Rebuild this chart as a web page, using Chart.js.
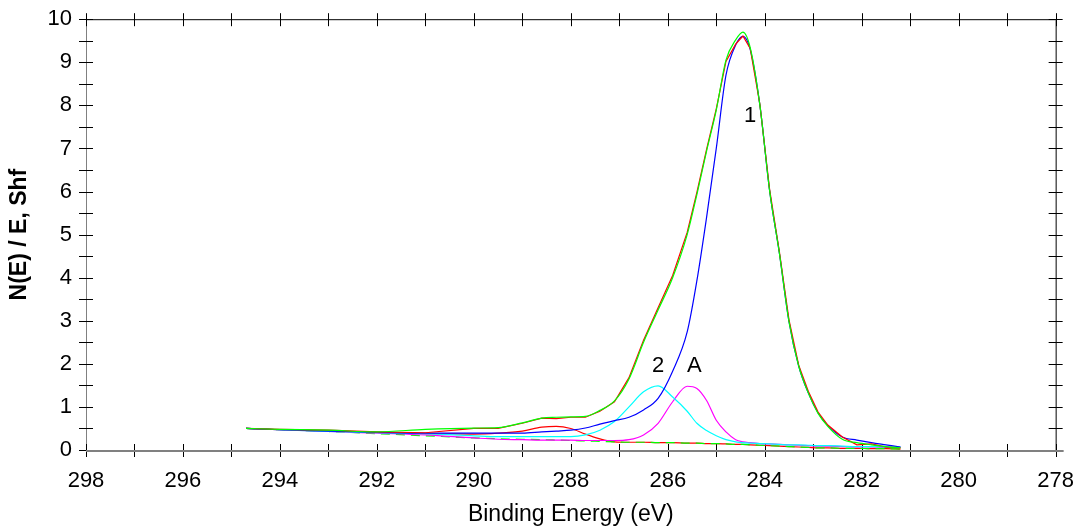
<!DOCTYPE html>
<html>
<head>
<meta charset="utf-8">
<script src="https://cdn.jsdelivr.net/npm/chart.js@4.4.1/dist/chart.umd.min.js"></script>
<style>
  html, body { margin: 0; padding: 0; background: #ffffff; }
  #c { display: block; }
</style>
</head>
<body>
<canvas id="c" width="1084" height="528"></canvas>
<script>
// Binding energy grid (eV)
const energy = [294.7, 294, 293, 292, 291, 290, 289.5, 289, 288.6, 288.3, 288, 287.7, 287.4, 287.1, 286.8, 286.5, 286.2, 285.9, 285.6, 285.4, 285.2, 285.0, 284.8, 284.6, 284.45, 284.3, 284.1, 283.9, 283.7, 283.5, 283.3, 283.1, 282.9, 282.7, 282.4, 282.1, 281.8, 281.5, 281.2];

// Raw spectrum (red)
const rawData = [0.50, 0.48, 0.46, 0.42, 0.40, 0.50, 0.50, 0.62, 0.74, 0.73, 0.76, 0.76, 0.90, 1.12, 1.68, 2.55, 3.30, 4.05, 5.05, 5.98, 6.98, 7.92, 9.02, 9.42, 9.61, 9.32, 8.02, 6.05, 4.62, 3.02, 1.97, 1.36, 0.88, 0.58, 0.30, 0.12, 0.14, 0.07, 0.05];
// Fitted envelope (green)
const envelope = [0.50, 0.48, 0.46, 0.42, 0.48, 0.51, 0.52, 0.63, 0.74, 0.76, 0.77, 0.78, 0.92, 1.14, 1.65, 2.50, 3.25, 4.00, 5.00, 5.93, 6.94, 7.89, 9.05, 9.52, 9.70, 9.34, 8.00, 6.02, 4.58, 2.98, 1.95, 1.32, 0.85, 0.55, 0.25, 0.17, 0.12, 0.08, 0.05];
// Component 1 (blue)
const peak1 = [0.50, 0.47, 0.44, 0.41, 0.39, 0.39, 0.39, 0.39, 0.42, 0.44, 0.46, 0.51, 0.60, 0.68, 0.76, 0.93, 1.20, 1.83, 2.74, 3.93, 5.40, 7.00, 8.70, 9.40, 9.60, 9.30, 8.00, 6.02, 4.58, 2.98, 1.95, 1.32, 0.86, 0.57, 0.30, 0.23, 0.17, 0.12, 0.07];
// Component 2 (cyan)
const peak2 = [0.50, 0.47, 0.43, 0.40, 0.38, 0.33, 0.31, 0.31, 0.31, 0.31, 0.31, 0.35, 0.46, 0.66, 1.00, 1.35, 1.49, 1.23, 0.90, 0.62, 0.45, 0.33, 0.24, 0.19, 0.17, 0.16, 0.15, 0.14, 0.13, 0.12, 0.12, 0.11, 0.10, 0.10, 0.09, 0.08, 0.08, 0.07, 0.07];
// Component A (magenta)
const peakA = [0.50, 0.47, 0.43, 0.39, 0.35, 0.28, 0.25, 0.24, 0.23, 0.23, 0.23, 0.22, 0.22, 0.22, 0.24, 0.35, 0.62, 1.12, 1.48, 1.43, 1.15, 0.69, 0.42, 0.24, 0.19, 0.17, 0.15, 0.14, 0.13, 0.12, 0.11, 0.10, 0.09, 0.09, 0.08, 0.07, 0.07, 0.06, 0.06];
// Small component near 288.4 eV (red)
const peak3 = [0.50, 0.47, 0.44, 0.41, 0.38, 0.37, 0.39, 0.44, 0.53, 0.55, 0.50, 0.37, 0.26, 0.19, 0.18, 0.18, 0.17, 0.17, 0.16, 0.16, 0.15, 0.15, 0.14, 0.13, 0.13, 0.12, 0.11, 0.10, 0.09, 0.08, 0.07, 0.06, 0.05, 0.05, 0.04, 0.04, 0.03, 0.03, 0.02];
// Background (green dashed)
const background = [0.50, 0.47, 0.43, 0.38, 0.33, 0.28, 0.26, 0.25, 0.24, 0.23, 0.22, 0.21, 0.20, 0.19, 0.18, 0.18, 0.17, 0.17, 0.16, 0.16, 0.15, 0.15, 0.14, 0.13, 0.13, 0.12, 0.11, 0.10, 0.09, 0.08, 0.07, 0.06, 0.05, 0.05, 0.04, 0.04, 0.03, 0.03, 0.02];

// Peak labels
const labelText = ['1', '2', 'A'];
const labelEnergy = [284.3, 286.2, 285.45];
const labelValue = [7.75, 1.95, 1.95];

// Axis settings
const xMin = 278, xMax = 298, xMajor = 2, xMinor = 1;
const yMin = 0, yMax = 10, yMajor = 1, yMinor = 0.5;

const pts = arr => arr.map((v, i) => ({ x: energy[i], y: v }));

const FONT = '"Liberation Sans", Arial, sans-serif';

const framePlugin = {
  id: 'frame',
  beforeDatasetsDraw(chart) {
    const { ctx, chartArea: a, scales: { x, y } } = chart;
    ctx.save();
    ctx.lineCap = 'butt';
    ctx.strokeStyle = '#808080';
    ctx.lineWidth = 1;
    ctx.beginPath();
    ctx.moveTo(a.left + 0.5, a.top); ctx.lineTo(a.left + 0.5, a.bottom);
    ctx.stroke();
    ctx.strokeStyle = '#000';
    ctx.beginPath();
    ctx.moveTo(a.left, a.top + 0.5); ctx.lineTo(a.right, a.top + 0.5);
    ctx.moveTo(a.right + 0.5, a.top); ctx.lineTo(a.right + 0.5, a.bottom);
    ctx.stroke();
    ctx.strokeStyle = '#000';
    ctx.lineWidth = 1;
    ctx.beginPath();
    for (let e = xMin; e <= xMax + 1e-9; e += xMinor) {
      const px = Math.round(x.getPixelForValue(e)) + 0.5;
      ctx.moveTo(px, a.bottom - 6); ctx.lineTo(px, a.bottom + 7);
      ctx.moveTo(px, a.top - 6); ctx.lineTo(px, a.top + 7);
    }
    for (let v = yMin; v <= yMax + 1e-9; v += yMinor) {
      const py = Math.round(y.getPixelForValue(v)) + 0.5;
      ctx.moveTo(a.left - 7, py); ctx.lineTo(a.left + 7, py);
      ctx.moveTo(a.right - 7, py); ctx.lineTo(a.right + 7, py);
    }
    ctx.stroke();
    ctx.strokeStyle = '#808080';
    ctx.lineWidth = 2;
    ctx.beginPath();
    ctx.moveTo(a.left, a.bottom + 1); ctx.lineTo(a.right + 8, a.bottom + 1);
    ctx.stroke();
    ctx.restore();
  },
  afterDatasetsDraw(chart) {
    const { ctx, scales: { x, y } } = chart;
    ctx.save();
    ctx.fillStyle = '#000';
    ctx.font = '22px ' + FONT;
    ctx.textAlign = 'center';
    ctx.textBaseline = 'middle';
    labelText.forEach((t, i) => {
      ctx.fillText(t, x.getPixelForValue(labelEnergy[i]), y.getPixelForValue(labelValue[i]));
    });
    ctx.restore();
  }
};

const line = (data, color, order, extra) => Object.assign({
  data: pts(data),
  borderColor: color,
  borderWidth: 1.2,
  pointRadius: 0,
  fill: false,
  cubicInterpolationMode: 'monotone',
  order: order
}, extra || {});

new Chart(document.getElementById('c'), {
  type: 'line',
  data: {
    datasets: [
      line(envelope, '#00ff00', 1),
      line(rawData, '#ff0000', 2, { cubicInterpolationMode: 'default', tension: 0 }),
      line(peak1, '#0000ff', 3),
      line(peak2, '#00ffff', 4),
      line(peakA, '#ff00ff', 5),
      line(background, '#00ff00', 6, { borderDash: [9, 6] }),
      line(peak3, '#ff0000', 7)
    ]
  },
  options: {
    responsive: false,
    animation: false,
    devicePixelRatio: 1,
    layout: { padding: { top: 13, right: 17, left: 0, bottom: 0 } },
    plugins: { legend: { display: false }, tooltip: { enabled: false } },
    scales: {
      x: {
        type: 'linear',
        min: xMin, max: xMax,
        reverse: true,
        grid: { display: false },
        border: { display: false },
        ticks: {
          stepSize: xMajor,
          color: '#000',
          font: { family: FONT, size: 22 },
          padding: 10,
          maxRotation: 0,
          autoSkip: false
        },
        title: {
          display: true,
          text: 'Binding Energy (eV)',
          color: '#000',
          font: { family: FONT, size: 23 },
          padding: { top: 0, bottom: 0 }
        },
        afterFit(s) { s.height = 78; }
      },
      y: {
        type: 'linear',
        min: yMin, max: yMax,
        grid: { display: false },
        border: { display: false },
        ticks: {
          stepSize: yMajor,
          color: '#000',
          font: { family: FONT, size: 22 },
          padding: 6
        },
        title: {
          display: true,
          text: 'N(E) / E, Shf',
          color: '#000',
          font: { family: FONT, size: 23, weight: 'bold' },
          padding: { top: 6, bottom: 0 }
        },
        afterFit(s) { s.width = 86; }
      }
    }
  },
  plugins: [framePlugin]
});
</script>
</body>
</html>
